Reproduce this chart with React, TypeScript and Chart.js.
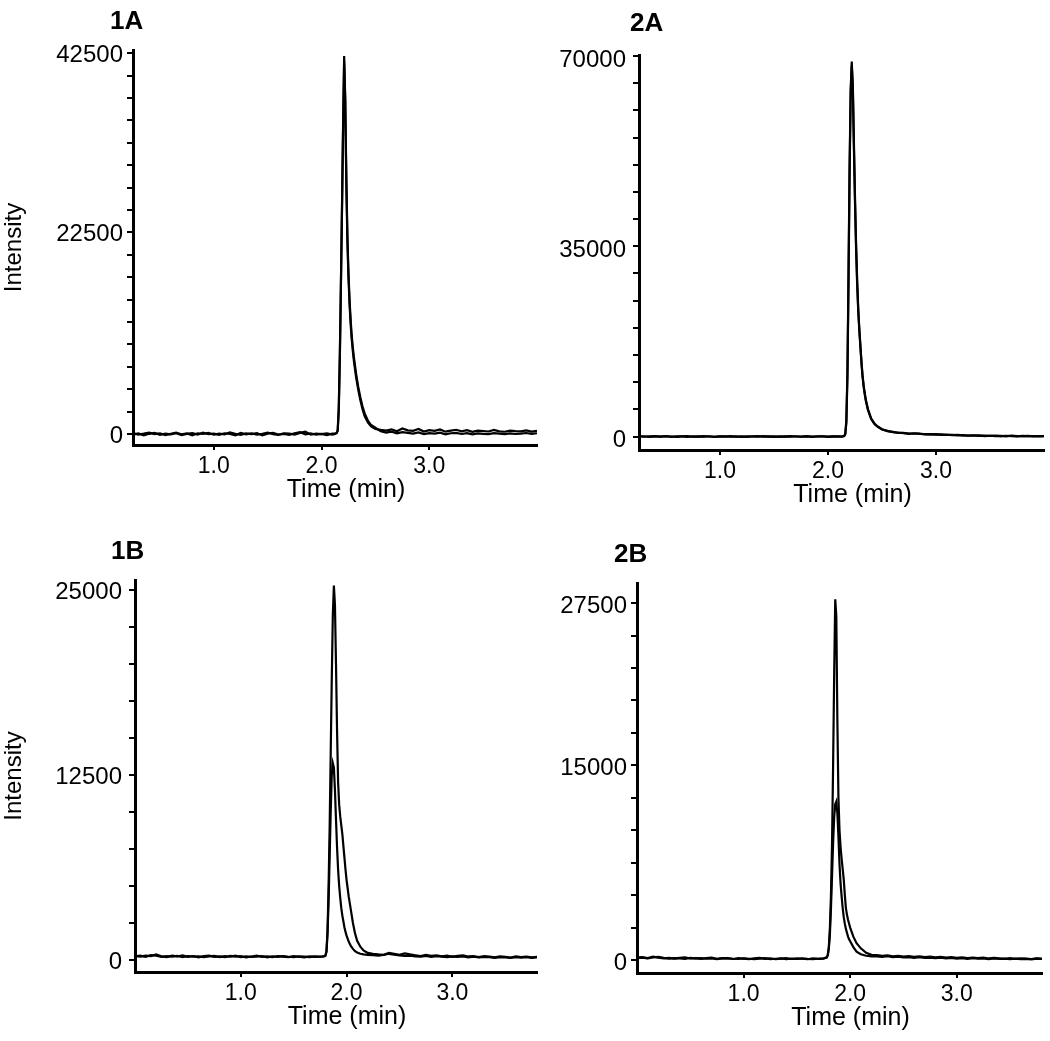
import React, { useEffect, useRef } from "react";
import { Chart, registerables } from "chart.js";
Chart.register(...registerables);

const FONT = '"Liberation Sans", Arial, Helvetica, sans-serif';

// ---------- time grids (min) ----------
const timesPreTop = [0.25,0.30,0.35,0.40,0.45,0.50,0.55,0.60,0.65,0.70,0.75,0.80,0.85,0.90,0.95,1.00,1.05,1.10,1.15,1.20,1.25,1.30,1.35,1.40,1.45,1.50,1.55,1.60,1.65,1.70,1.75,1.80,1.85,1.90,1.95,2.00,2.05,2.10];
const timesPostTop = [2.55,2.60,2.65,2.70,2.75,2.80,2.85,2.90,2.95,3.00,3.05,3.10,3.15,3.20,3.25,3.30,3.35,3.40,3.45,3.50,3.55,3.60,3.65,3.70,3.75,3.80,3.85,3.90,3.95,4.00];
const timesPreBottom = [0.00,0.05,0.10,0.15,0.20,0.25,0.30,0.35,0.40,0.45,0.50,0.55,0.60,0.65,0.70,0.75,0.80,0.85,0.90,0.95,1.00,1.05,1.10,1.15,1.20,1.25,1.30,1.35,1.40,1.45,1.50,1.55,1.60,1.65,1.70,1.75];
const timesPostBottom = [2.25,2.30,2.35,2.40,2.45,2.50,2.55,2.60,2.65,2.70,2.75,2.80,2.85,2.90,2.95,3.00,3.05,3.10,3.15,3.20,3.25,3.30,3.35,3.40,3.45,3.50,3.55,3.60,3.65,3.70,3.75,3.80];

const peakTimes1A = [2.12,2.14,2.15,2.16,2.17,2.18,2.19,2.20,2.21,2.22,2.23,2.24,2.25,2.26,2.27,2.28,2.29,2.30,2.32,2.34,2.36,2.38,2.40,2.43,2.46,2.50];
const peakTimes2A = [2.13,2.15,2.16,2.17,2.18,2.19,2.20,2.21,2.22,2.23,2.24,2.25,2.26,2.27,2.28,2.29,2.30,2.31,2.32,2.33,2.34,2.35,2.37,2.40,2.43,2.46,2.50];
const peakTimes1B = [1.77,1.79,1.80,1.81,1.82,1.83,1.84,1.85,1.86,1.87,1.88,1.89,1.90,1.91,1.92,1.93,1.94,1.95,1.96,1.97,1.98,1.99,2.00,2.02,2.04,2.06,2.08,2.10,2.13,2.16,2.20];
const peakTimes2B = [1.76,1.78,1.79,1.80,1.81,1.82,1.83,1.84,1.85,1.86,1.87,1.88,1.89,1.90,1.91,1.92,1.93,1.94,1.95,1.96,1.97,1.98,1.99,2.00,2.03,2.06,2.10,2.15,2.20];

// ---------- 1A intensities ----------
const pre1A_a = [100,-60,40,160,-20,80,-120,20,140,-40,60,-150,80,0,120,-80,40,-40,180,20,-100,60,-20,100,-140,40,120,-60,20,-100,80,200,-40,60,-80,20,-120,40];
const pre1A_b = [-80,60,-140,20,120,-100,40,-40,80,-120,20,100,-60,140,-20,40,-100,80,0,-140,120,-40,60,-80,20,160,-20,-100,80,40,-60,120,260,-80,40,-20,80,-60];
const peak1A_a = [30,120,400,3000,9000,17000,25500,34500,42200,37000,28000,21500,17500,14500,12300,10600,9300,8200,6400,5000,3800,2800,2000,1300,850,550];
const peak1A_b = [-20,80,350,2600,8500,16500,25000,34000,41600,37500,28800,22200,18000,15000,12800,11000,9700,8600,6800,5300,4100,3100,2300,1500,1000,700];
const post1A_a = [450,380,520,300,620,400,350,560,280,420,350,500,260,380,470,300,420,250,380,330,280,450,300,250,380,320,290,400,260,350];
const post1A_b = [300,150,250,80,200,120,50,180,-20,100,40,150,-30,80,120,0,90,-40,60,20,-20,100,30,-10,70,0,40,110,20,80];

// ---------- 2A intensities ----------
const pre2A_a = [60,-40,20,90,-30,50,-80,10,40,-60,30,-20,70,0,-50,40,-10,60,-40,20,-70,30,80,-20,10,-50,40,-30,60,0,-40,30,-60,20,50,-30,10,-20];
const pre2A_b = [-30,50,-60,20,-10,70,0,-50,30,60,-40,10,-20,50,-70,20,40,-30,10,-60,30,0,-40,60,-20,30,-50,20,-10,50,-30,70,-20,0,30,-50,20,40];
const peak2A_a = [0,100,500,3000,12000,30000,50000,64000,69000,64000,53000,43000,34500,28000,23000,19500,16500,13500,11000,9200,7800,6600,4900,3200,2300,1800,1300];
const peak2A_b = [0,80,400,2500,11000,28500,48500,63000,68200,64500,54000,44000,35500,28800,23600,19800,16700,13700,11200,9400,8000,6800,5000,3300,2400,1850,1350];
const post2A_a = [1050,800,700,620,550,600,480,450,400,430,300,350,250,320,200,150,230,120,180,100,150,60,140,90,30,120,50,100,20,80];
const post2A_b = [1000,850,650,680,500,560,520,400,450,350,380,280,300,200,260,180,150,200,80,160,70,120,40,150,60,80,110,30,90,50];

// ---------- 1B intensities ----------
const pre1B_a = [280,230,300,260,380,250,200,290,240,310,220,270,180,260,300,210,250,190,280,230,260,170,240,290,210,250,200,270,230,190,260,220,180,240,210,230];
const pre1B_b = [240,290,220,330,300,210,260,230,280,200,260,230,250,190,240,280,200,260,220,300,190,250,210,230,270,180,240,210,260,220,200,250,230,190,250,220];
const peak1B_a = [240,260,300,600,2000,5000,9000,14000,19000,23300,25300,24000,20000,15500,12000,10500,9700,9100,8500,7700,6900,6100,5400,4300,3400,2500,1800,1300,900,650,480];
const peak1B_b = [220,250,290,550,1800,4000,7000,10000,12500,13300,13000,11500,9500,7600,6100,5000,4200,3500,3000,2600,2200,1900,1650,1250,950,750,600,500,420,380,350];
const post1B_a = [420,380,350,480,420,350,450,380,320,260,340,290,320,250,300,220,280,310,240,270,200,260,230,180,250,210,170,240,200,230,180,220];
const post1B_b = [330,300,340,420,360,310,270,290,250,230,280,210,260,230,190,250,210,240,180,220,170,210,190,150,200,170,140,190,160,200,150,180];

// ---------- 2B intensities ----------
const pre2B_a = [180,220,150,260,190,130,170,110,160,200,120,150,90,140,180,100,150,120,80,140,110,70,130,160,90,120,60,110,140,80,130,100,60,120,90,110];
const pre2B_b = [150,180,120,200,240,160,110,150,130,90,160,120,140,100,130,70,120,150,100,80,130,100,60,110,140,70,100,130,60,110,80,120,90,70,100,130];
const peak2B_a = [150,200,400,1000,2500,5000,9000,15000,22000,27800,26500,18500,12500,10000,8700,7800,7000,6200,5000,4000,3500,3100,2800,2500,1800,1300,900,560,400];
const peak2B_b = [140,190,350,900,2000,4000,6500,9000,11000,12000,12200,11300,9500,7400,5900,4900,4000,3300,2800,2400,2100,1800,1600,1450,1000,650,450,330,280];
const post2B_a = [380,320,350,280,330,260,300,240,290,220,260,200,240,180,230,170,200,150,190,140,180,120,160,130,100,150,90,130,110,80,120,100];
const post2B_b = [280,250,300,220,260,200,230,170,220,160,190,150,180,130,160,110,150,90,140,100,120,70,130,80,100,60,110,70,90,50,100,80];

// ---------- ticks ----------
const xTicks = [1, 2, 3];
const yTicks1A = [0,2500,5000,7500,10000,12500,15000,17500,20000,22500,25000,27500,30000,32500,35000,37500,40000,42500];
const yLabels1A = [0, 22500, 42500];
const yTicks2A = [0,5000,10000,15000,20000,25000,30000,35000,40000,45000,50000,55000,60000,65000,70000];
const yLabels2A = [0, 35000, 70000];
const yTicks1B = [0,2500,5000,7500,10000,12500,15000,17500,20000,22500,25000];
const yLabels1B = [0, 12500, 25000];
const yTicks2B = [0,2500,5000,7500,10000,12500,15000,17500,20000,22500,25000,27500];
const yLabels2B = [0, 15000, 27500];

const X_TITLE = "Time (min)";
const Y_TITLE = "Intensity";

const panelTextPlugin = {
  id: "panelText",
  afterDraw(chart: any, _args: any, opts: any) {
    if (!opts || !opts.text) return;
    const ctx = chart.ctx;
    const ca = chart.chartArea;
    ctx.save();
    ctx.fillStyle = "#000";
    ctx.font = `bold 26px ${FONT}`;
    ctx.textAlign = "left";
    ctx.textBaseline = "alphabetic";
    ctx.fillText(opts.text, opts.x, opts.y);
    ctx.font = `25px ${FONT}`;
    ctx.textAlign = "center";
    ctx.textBaseline = "middle";
    ctx.fillText(X_TITLE, (ca.left + ca.right) / 2 + 11, ca.bottom + 45);
    ctx.restore();
  },
};

type Spec = {
  label: string;
  left: number; top: number; w: number; h: number;
  area: { left: number; top: number; right: number; bottom: number };
  boxBottom: number;
  labelX: number; labelY: number;
  xMin: number; xMax: number; yMin: number; yMax: number;
  times: number[]; a: number[]; b: number[];
  yTicks: number[]; yLabels: number[];
  yTitle: boolean; yPad: number; yOff: number;
};

const specs: Spec[] = [
  {
    label: "1A", left: 0, top: 0, w: 545, h: 520,
    area: { left: 133, top: 50, right: 537, bottom: 445 }, boxBottom: 505,
    labelX: 110, labelY: 29,
    xMin: 0.25, xMax: 4.0, yMin: -1230, yMax: 42870,
    times: [...timesPreTop, ...peakTimes1A, ...timesPostTop],
    a: [...pre1A_a, ...peak1A_a, ...post1A_a],
    b: [...pre1A_b, ...peak1A_b, ...post1A_b],
    yTicks: yTicks1A, yLabels: yLabels1A, yTitle: true, yPad: 4, yOff: 2,
  },
  {
    label: "2A", left: 520, top: 0, w: 530, h: 520,
    area: { left: 119, top: 55, right: 524, bottom: 450 }, boxBottom: 510,
    labelX: 110, labelY: 31,
    xMin: 0.25, xMax: 4.0, yMin: -2480, yMax: 70200,
    times: [...timesPreTop, ...peakTimes2A, ...timesPostTop],
    a: [...pre2A_a, ...peak2A_a, ...post2A_a],
    b: [...pre2A_b, ...peak2A_b, ...post2A_b],
    yTicks: yTicks2A, yLabels: yLabels2A, yTitle: false, yPad: 7, yOff: 4,
  },
  {
    label: "1B", left: 0, top: 520, w: 545, h: 521,
    area: { left: 135, top: 60, right: 537, bottom: 452 }, boxBottom: 512,
    labelX: 111, labelY: 39,
    xMin: 0, xMax: 3.8, yMin: -810, yMax: 25680,
    times: [...timesPreBottom, ...peakTimes1B, ...timesPostBottom],
    a: [...pre1B_a, ...peak1B_a, ...post1B_a],
    b: [...pre1B_b, ...peak1B_b, ...post1B_b],
    yTicks: yTicks1B, yLabels: yLabels1B, yTitle: true, yPad: 7, yOff: 2,
  },
  {
    label: "2B", left: 520, top: 520, w: 530, h: 521,
    area: { left: 117, top: 63, right: 522, bottom: 453 }, boxBottom: 513,
    labelX: 94, labelY: 42,
    xMin: 0, xMax: 3.8, yMin: -1000, yMax: 29050,
    times: [...timesPreBottom, ...peakTimes2B, ...timesPostBottom],
    a: [...pre2B_a, ...peak2B_a, ...post2B_a],
    b: [...pre2B_b, ...peak2B_b, ...post2B_b],
    yTicks: yTicks2B, yLabels: yLabels2B, yTitle: false, yPad: 4, yOff: 3,
  },
];

const toPoints = (t: number[], v: number[]) => t.map((x, i) => ({ x, y: v[i] }));

function Panel({ spec }: { spec: Spec }) {
  const ref = useRef<HTMLCanvasElement | null>(null);
  useEffect(() => {
    if (!ref.current) return;
    const s = spec;
    const lineDs = (vals: number[]) => ({
      data: toPoints(s.times, vals),
      borderColor: "#000",
      borderWidth: 2.2,
      pointRadius: 0,
      tension: 0,
      fill: false,
    });
    const chart = new Chart(ref.current, {
      type: "line",
      data: { datasets: [lineDs(s.a), lineDs(s.b)] as any },
      options: {
        animation: false,
        responsive: false,
        maintainAspectRatio: false,
        events: [],
        layout: {
          padding: { left: 0, top: s.area.top, right: s.w - s.area.right, bottom: s.h - s.boxBottom },
        },
        plugins: {
          legend: { display: false },
          tooltip: { enabled: false },
          panelText: { text: s.label, x: s.labelX, y: s.labelY },
        } as any,
        scales: {
          x: {
            type: "linear",
            min: s.xMin,
            max: s.xMax,
            afterBuildTicks: (sc: any) => { sc.ticks = xTicks.map((v) => ({ value: v })); },
            afterFit: (sc: any) => { sc.height = s.boxBottom - s.area.bottom; },
            ticks: {
              autoSkip: false, maxRotation: 0, color: "#000", padding: 3,
              font: { family: FONT, size: 23 },
              callback: (v: any) => Number(v).toFixed(1),
            },
            grid: { display: true, drawOnChartArea: false, drawTicks: true, tickLength: 5, color: "#000", lineWidth: 2 },
            border: { display: true, color: "#000", width: 3 },
            title: { display: false },
          },
          y: {
            type: "linear",
            min: s.yMin,
            max: s.yMax,
            afterBuildTicks: (sc: any) => { sc.ticks = s.yTicks.map((v) => ({ value: v })); },
            afterFit: (sc: any) => { sc.width = s.area.left; },
            ticks: {
              autoSkip: false, color: "#000", padding: s.yPad, labelOffset: s.yOff,
              font: { family: FONT, size: 24 },
              callback: (v: any) => (s.yLabels.includes(Number(v)) ? String(v) : ""),
            },
            grid: { display: true, drawOnChartArea: false, drawTicks: true, tickLength: 6, color: "#000", lineWidth: 2 },
            border: { display: true, color: "#000", width: 3 },
            title: { display: s.yTitle, text: Y_TITLE, color: "#000", font: { family: FONT, size: 24 }, padding: 0 },
          },
        },
      } as any,
      plugins: [panelTextPlugin as any],
    });
    return () => chart.destroy();
  }, [spec]);
  return (
    <canvas
      ref={ref}
      width={spec.w}
      height={spec.h}
      style={{ position: "absolute", left: spec.left, top: spec.top, width: spec.w, height: spec.h }}
    />
  );
}

export default function App() {
  useEffect(() => {
    document.body.style.margin = "0";
    document.body.style.background = "#fff";
  }, []);
  return (
    <div style={{ position: "relative", width: 1050, height: 1041, background: "#fff", overflow: "hidden" }}>
      {specs.map((s) => (
        <Panel key={s.label} spec={s} />
      ))}
    </div>
  );
}
